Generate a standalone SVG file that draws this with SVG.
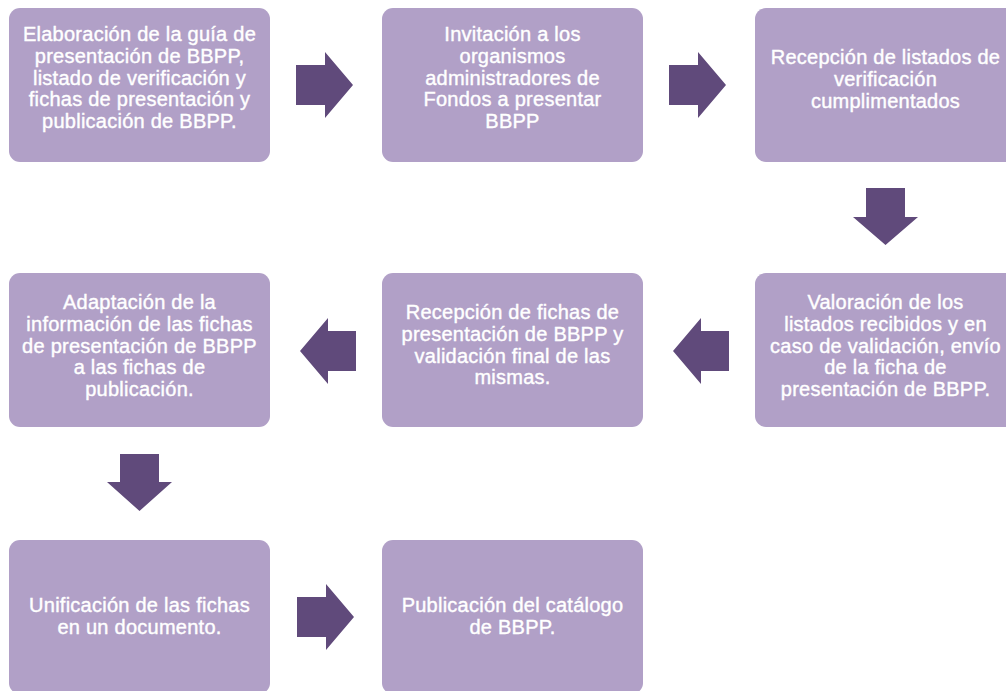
<svg xmlns="http://www.w3.org/2000/svg" width="1006" height="691" viewBox="0 0 1006 691">
<style>
.box{fill:#B1A0C7;}
.arr{fill:#604A7B;}
.t{font-family:"Liberation Sans",Arial,sans-serif;font-size:20px;letter-spacing:0.25px;fill:#FFFFFF;stroke:#FFFFFF;stroke-width:0.4px;text-anchor:middle;}
</style>
<rect width="1006" height="691" fill="#FFFFFF"/>
<g id="connectors">
<polygon class="arr" points="296,65 325,65 325,52 353,85 325,118 325,105 296,105"/>
<polygon class="arr" points="669,65 698,65 698,52 726,85 698,118 698,105 669,105"/>
<polygon class="arr" points="866,188 905,188 905,217 918,217 885.5,245 853,217 866,217"/>
<polygon class="arr" points="729,331 701,331 701,318 673,351 701,384 701,371 729,371"/>
<polygon class="arr" points="356,331 328,331 328,318 300,351 328,384 328,371 356,371"/>
<polygon class="arr" points="120,454 159,454 159,482 172,482 139.5,511 107,482 120,482"/>
<polygon class="arr" points="297,597 326,597 326,584 354,617 326,650 326,637 297,637"/>
</g>
<g id="n1">
<rect class="box" x="9" y="8" width="261" height="154" rx="11"/>
<text class="t"><tspan x="139.5" y="41.3">Elaboración de la guía de</tspan><tspan x="139.5" y="62.9">presentación de BBPP,</tspan><tspan x="139.5" y="84.5">listado de verificación y</tspan><tspan x="139.5" y="106.1">fichas de presentación y</tspan><tspan x="139.5" y="127.7">publicación de BBPP.</tspan></text>
</g>
<g id="n2">
<rect class="box" x="382" y="8" width="261" height="154" rx="11"/>
<text class="t"><tspan x="512.5" y="41.3">Invitación a los</tspan><tspan x="512.5" y="62.9">organismos</tspan><tspan x="512.5" y="84.5">administradores de</tspan><tspan x="512.5" y="106.1">Fondos a presentar</tspan><tspan x="512.5" y="127.7">BBPP</tspan></text>
</g>
<g id="n3">
<rect class="box" x="755" y="8" width="261" height="154" rx="11"/>
<text class="t"><tspan x="885.5" y="64.4">Recepción de listados de</tspan><tspan x="885.5" y="86">verificación</tspan><tspan x="885.5" y="107.6">cumplimentados</tspan></text>
</g>
<g id="n4">
<rect class="box" x="755" y="273" width="261" height="154" rx="11"/>
<text class="t"><tspan x="885.5" y="309.3">Valoración de los</tspan><tspan x="885.5" y="330.9">listados recibidos y en</tspan><tspan x="885.5" y="352.5">caso de validación, envío</tspan><tspan x="885.5" y="374.1">de la ficha de</tspan><tspan x="885.5" y="395.7">presentación de BBPP.</tspan></text>
</g>
<g id="n5">
<rect class="box" x="382" y="273" width="261" height="154" rx="11"/>
<text class="t"><tspan x="512.5" y="319.3">Recepción de fichas de</tspan><tspan x="512.5" y="340.9">presentación de BBPP y</tspan><tspan x="512.5" y="362.5">validación final de las</tspan><tspan x="512.5" y="384.1">mismas.</tspan></text>
</g>
<g id="n6">
<rect class="box" x="9" y="273" width="261" height="154" rx="11"/>
<text class="t"><tspan x="139.5" y="309.3">Adaptación de la</tspan><tspan x="139.5" y="330.9">información de las fichas</tspan><tspan x="139.5" y="352.5">de presentación de BBPP</tspan><tspan x="139.5" y="374.1">a las fichas de</tspan><tspan x="139.5" y="395.7">publicación.</tspan></text>
</g>
<g id="n7">
<rect class="box" x="9" y="540" width="261" height="154" rx="11"/>
<text class="t"><tspan x="139.5" y="612">Unificación de las fichas</tspan><tspan x="139.5" y="633.6">en un documento.</tspan></text>
</g>
<g id="n8">
<rect class="box" x="382" y="540" width="261" height="154" rx="11"/>
<text class="t"><tspan x="512.5" y="612">Publicación del catálogo</tspan><tspan x="512.5" y="633.6">de BBPP.</tspan></text>
</g>
</svg>
